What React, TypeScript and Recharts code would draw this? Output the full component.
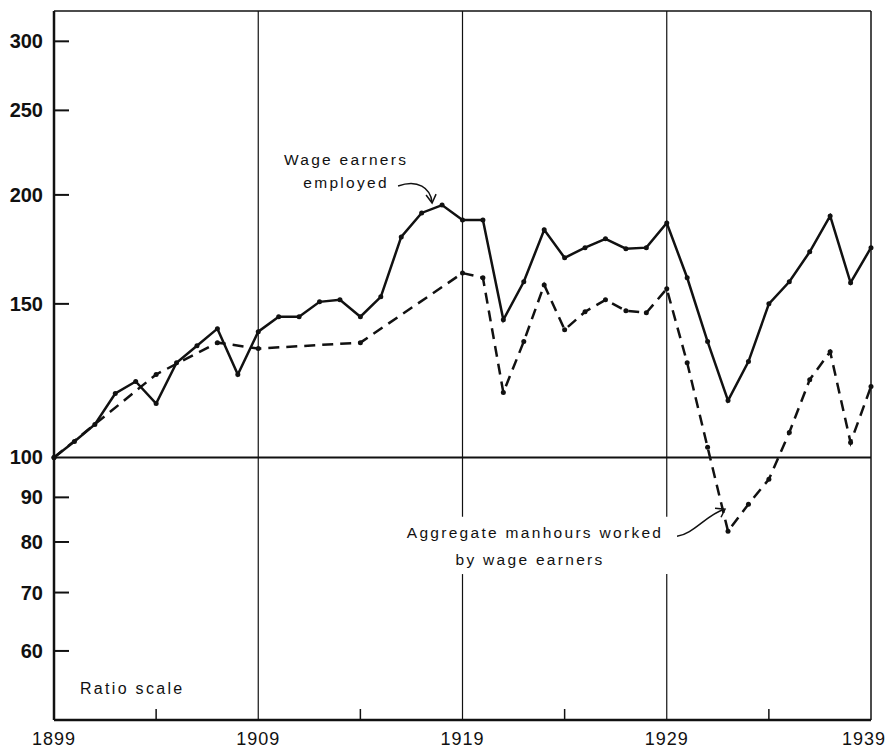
import React from "react";
import { LineChart, Line, XAxis, YAxis, ReferenceLine, ReferenceDot } from "recharts";

const years = [
  1899, 1900, 1901, 1902, 1903, 1904, 1905, 1906, 1907, 1908, 1909, 1910, 1911, 1912,
  1913, 1914, 1915, 1916, 1917, 1918, 1919, 1920, 1921, 1922, 1923, 1924, 1925, 1926,
  1927, 1928, 1929, 1930, 1931, 1932, 1933, 1934, 1935, 1936, 1937, 1938, 1939,
];

// index, 1899 = 100
const wageEarners = [
  100, 104.3, 109.1, 118.4, 122.2, 115.3, 128.4, 134.3, 140.5, 124.5, 139.4, 145, 145, 150.8,
  151.6, 145, 152.8, 179, 190.7, 194.7, 187.2, 187.2, 143.8, 159, 182.4, 169.4, 174, 178.1,
  173.5, 174, 185.7, 160.7, 135.8, 116.2, 128.8, 150, 159, 172.1, 189.2, 158.6, 174,
];

// census years only before 1919
const manhours = [
  100, null, null, null, null, 124.5, null, null, 135.4, null, 133.3, null, null, null,
  null, 135.4, null, null, null, null, 162.7, 160.7, 118.7, 135.8, 157.7, 140.1, 146.9, 151.6,
  147.3, 146.5, 156.1, 128.4, 102.7, 82.3, 88.4, 94.4, 106.8, 122.8, 132.2, 104, 120.6,
];

const yTicks = [60, 70, 80, 90, 100, 150, 200, 250, 300];
const xTicks = [1899, 1904, 1909, 1914, 1919, 1924, 1929, 1934, 1939];
const xLabels = [1899, 1909, 1919, 1929, 1939];

const data = years.map((year, i) => ({ year, wage: wageEarners[i], hours: manhours[i] }));

const ink = "#111";
const font = "'Liberation Sans', Arial, sans-serif";
const noteFont = { fontFamily: font, fontSize: 15.5, letterSpacing: 2.3, fill: ink };

function YTick(props: any) {
  const { x, y, payload } = props;
  return (
    <g>
      {payload.value !== 100 && (
        <line x1={x} x2={x + 15} y1={y} y2={y} stroke={ink} strokeWidth={2} />
      )}
      <text x={x - 11} y={y} dy={7} textAnchor="end" fontFamily={font} fontSize={20} fontWeight="bold" fill={ink}>
        {payload.value}
      </text>
    </g>
  );
}

function XTick(props: any) {
  const { x, y, payload } = props;
  if (xLabels.includes(payload.value)) {
    // last label would run off the page, keep it inside
    const last = payload.value === 1939;
    return (
      <text
        x={last ? x + 15 : x}
        y={y + 25}
        textAnchor={last ? "end" : "middle"}
        fontFamily={font}
        fontSize={18}
        letterSpacing={1}
        fill={ink}
      >
        {payload.value}
      </text>
    );
  }
  return <line x1={x} x2={x} y1={y} y2={y - 11} stroke={ink} strokeWidth={1.5} />;
}

const WageNote = ({ cx, cy }: any) => (
  <g>
    <text x={cx - 96} y={cy - 40} textAnchor="middle" {...noteFont}>Wage earners</text>
    <text x={cx - 96} y={cy - 17} textAnchor="middle" {...noteFont}>employed</text>
    <path
      d={`M${cx - 44},${cy - 19} C${cx - 24},${cy - 26} ${cx - 12},${cy - 17} ${cx - 10},${cy - 3}`}
      fill="none" stroke={ink} strokeWidth={1.5}
    />
    <path d={`M${cx - 16},${cy - 10} L${cx - 10},${cy - 2} L${cx - 6},${cy - 11}`} fill="none" stroke={ink} strokeWidth={1.5} />
  </g>
);

const HoursNote = ({ cx, cy }: any) => (
  <g>
    <text x={cx - 193} y={cy + 7} textAnchor="middle" {...noteFont}>Aggregate manhours worked</text>
    <text x={cx - 198} y={cy + 34} textAnchor="middle" {...noteFont}>by wage earners</text>
    <path
      d={`M${cx - 51},${cy + 5} C${cx - 35},${cy + 3} ${cx - 22},${cy - 16} ${cx - 4},${cy - 22}`}
      fill="none" stroke={ink} strokeWidth={1.5}
    />
    <path d={`M${cx - 13},${cy - 23} L${cx - 3},${cy - 22} L${cx - 7},${cy - 14}`} fill="none" stroke={ink} strokeWidth={1.5} />
  </g>
);

const RatioNote = ({ cx, cy }: any) => (
  <text x={cx + 26} y={cy} {...noteFont} fontSize={16}>Ratio scale</text>
);

export default function App() {
  return (
    <div style={{ position: "absolute", left: 0, top: 0, background: "#fff" }}>
      <LineChart width={888} height={749} data={data} margin={{ top: 11, right: 17, left: 0, bottom: 0 }}>
        <XAxis
          dataKey="year"
          type="number"
          domain={[1899, 1939]}
          ticks={xTicks}
          height={29}
          tickSize={0}
          tickMargin={0}
          tickLine={false}
          axisLine={{ stroke: ink, strokeWidth: 2.5 }}
          tick={<XTick />}
        />
        <YAxis
          type="number"
          scale="log"
          domain={[50, 325]}
          allowDataOverflow
          ticks={yTicks}
          width={54}
          tickSize={0}
          tickMargin={0}
          tickLine={false}
          axisLine={{ stroke: ink, strokeWidth: 2.5 }}
          tick={<YTick />}
        />
        <ReferenceLine y={325} stroke={ink} strokeWidth={1.5} />
        <ReferenceLine y={100} stroke={ink} strokeWidth={2} />
        <ReferenceLine x={1909} stroke={ink} strokeWidth={1.2} />
        <ReferenceLine segment={[{ x: 1919, y: 325 }, { x: 1919, y: 85.5 }]} stroke={ink} strokeWidth={1.2} />
        <ReferenceLine segment={[{ x: 1919, y: 73.5 }, { x: 1919, y: 50 }]} stroke={ink} strokeWidth={1.2} />
        <ReferenceLine segment={[{ x: 1929, y: 325 }, { x: 1929, y: 85.5 }]} stroke={ink} strokeWidth={1.2} />
        <ReferenceLine segment={[{ x: 1929, y: 73.5 }, { x: 1929, y: 50 }]} stroke={ink} strokeWidth={1.2} />
        <ReferenceLine x={1939} stroke={ink} strokeWidth={1.5} />
        <Line
          dataKey="hours"
          stroke={ink}
          strokeWidth={2.5}
          strokeDasharray="11 7"
          connectNulls
          dot={{ r: 2.5, fill: ink, stroke: ink, strokeWidth: 0 }}
          isAnimationActive={false}
        />
        <Line
          dataKey="wage"
          stroke={ink}
          strokeWidth={2.5}
          dot={{ r: 2.5, fill: ink, stroke: ink, strokeWidth: 0 }}
          isAnimationActive={false}
        />
        <ReferenceDot x={1918} y={194.7} r={0} shape={WageNote} />
        <ReferenceDot x={1932} y={82.3} r={0} shape={HoursNote} />
        <ReferenceDot x={1899} y={53.5} r={0} shape={RatioNote} />
      </LineChart>
    </div>
  );
}
